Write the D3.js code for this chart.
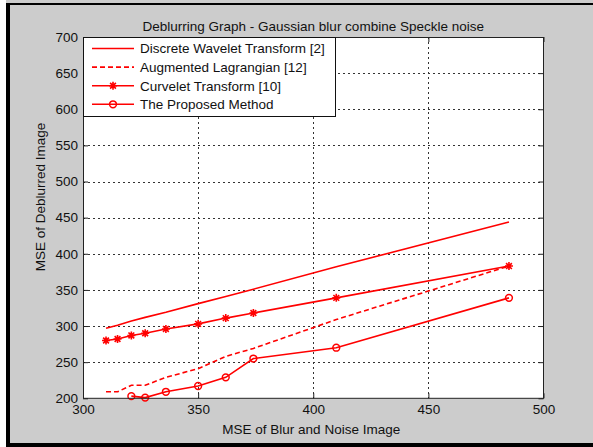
<!DOCTYPE html>
<html>
<head>
<meta charset="utf-8">
<script src="https://cdn.jsdelivr.net/npm/d3@7"></script>
<style>
  html, body { margin: 0; padding: 0; background: #fff; }
  svg { display: block; }
  text { font-family: "Liberation Sans", Arial, sans-serif; fill: #111; }
</style>
</head>
<body>
<svg id="chart" width="593" height="447"></svg>
<script>
// Deblurring results: MSE of the restored image vs MSE of the degraded input
const title = "Deblurring Graph - Gaussian blur combine Speckle noise";
const xLabel = "MSE of Blur and Noise Image";
const yLabel = "MSE of Deblurred Image";

const xTicks = [300, 350, 400, 450, 500];
const yTicks = [200, 250, 300, 350, 400, 450, 500, 550, 600, 650, 700];

const dwtX = [310, 315, 321, 327, 336, 350, 362, 374, 410, 485];
const dwtY = [297, 301, 307, 312, 319, 331, 341, 351, 382, 444];

const alX = [310, 315, 321, 327, 336, 350, 362, 374, 410, 485];
const alY = [209, 209, 218, 218, 229, 241, 258, 269, 309, 383];

const ctX = [310, 315, 321, 327, 336, 350, 362, 374, 410, 485];
const ctY = [280, 282, 287, 290, 296, 303, 311, 318, 339, 383];

const pmX = [321, 327, 336, 350, 362, 374, 410, 485];
const pmY = [203, 201, 209, 217, 229, 255, 270, 339];

const seriesNames = [
  "Discrete Wavelet Transform [2]",
  "Augmented Lagrangian [12]",
  "Curvelet Transform [10]",
  "The Proposed Method"
];

const series = [
  { name: seriesNames[0], xs: dwtX, ys: dwtY, dash: null, marker: "none" },
  { name: seriesNames[1], xs: alX, ys: alY, dash: "5,3", marker: "none" },
  { name: seriesNames[2], xs: ctX, ys: ctY, dash: null, marker: "star" },
  { name: seriesNames[3], xs: pmX, ys: pmY, dash: null, marker: "circle" }
];

const W = 593, H = 447;
const plot = { left: 83, right: 543.5, top: 37, bottom: 398.3 };
const red = "#ff0000";
const fontSize = 13.5;

const svg = d3.select("#chart");

// figure background and frame
svg.append("rect").attr("x", 0).attr("y", 0).attr("width", W).attr("height", H).attr("fill", "#cccccc");
svg.append("rect").attr("x", 0).attr("y", 0).attr("width", 6).attr("height", H).attr("fill", "#ffffff");
svg.append("rect").attr("x", 6).attr("y", 3).attr("width", W - 6).attr("height", 2).attr("fill", "#000");
svg.append("rect").attr("x", 6).attr("y", 3).attr("width", 4).attr("height", H - 3).attr("fill", "#000");
svg.append("rect").attr("x", 6).attr("y", 443).attr("width", W - 6).attr("height", 4).attr("fill", "#000");

const x = d3.scaleLinear().domain([300, 500]).range([plot.left, plot.right]);
const y = d3.scaleLinear().domain([200, 700]).range([plot.bottom, plot.top]);

// axes area
svg.append("rect")
  .attr("x", plot.left).attr("y", plot.top)
  .attr("width", plot.right - plot.left).attr("height", plot.bottom - plot.top)
  .attr("fill", "#fff");

// dotted grid
const grid = svg.append("g").attr("stroke", "#333").attr("stroke-width", 1).attr("stroke-dasharray", "2,3");
grid.selectAll("line.gx").data(xTicks.slice(1, -1)).join("line")
  .attr("x1", d => Math.round(x(d)) + 0.5).attr("x2", d => Math.round(x(d)) + 0.5)
  .attr("y1", plot.top).attr("y2", plot.bottom);
grid.selectAll("line.gy").data(yTicks.slice(1, -1)).join("line")
  .attr("y1", d => Math.round(y(d)) + 0.5).attr("y2", d => Math.round(y(d)) + 0.5)
  .attr("x1", plot.left).attr("x2", plot.right);

// axes with inward ticks
const xAxis = d3.axisBottom(x).tickValues(xTicks).tickSize(-5).tickPadding(6).tickFormat(d3.format("d"));
const yAxis = d3.axisLeft(y).tickValues(yTicks).tickSize(-5).tickPadding(5).tickFormat(d3.format("d"));
const xTop = d3.axisTop(x).tickValues(xTicks).tickSize(-5).tickFormat("");
const yRight = d3.axisRight(y).tickValues(yTicks).tickSize(-5).tickFormat("");

function styleAxis(g) {
  g.select(".domain").remove();
  g.selectAll(".tick line").attr("stroke", "#222");
  g.selectAll(".tick text").attr("font-size", fontSize).attr("font-family", "'Liberation Sans', Arial, sans-serif").attr("fill", "#111");
}
svg.append("g").attr("transform", `translate(0,${plot.bottom})`).call(xAxis).call(styleAxis);
svg.append("g").attr("transform", `translate(${plot.left},0)`).call(yAxis).call(styleAxis);
svg.append("g").attr("transform", `translate(0,${plot.top})`).call(xTop).call(styleAxis);
svg.append("g").attr("transform", `translate(${plot.right},0)`).call(yRight).call(styleAxis);

// series lines
const line = d3.line().x(d => x(d[0])).y(d => y(d[1]));
const starPath = s => `M${-s},0L${s},0M0,${-s}L0,${s}M${-0.72*s},${-0.72*s}L${0.72*s},${0.72*s}M${-0.72*s},${0.72*s}L${0.72*s},${-0.72*s}`;

function drawMarker(g, kind, cx, cy) {
  if (kind === "star") {
    g.append("path").attr("d", starPath(4)).attr("transform", `translate(${cx},${cy})`)
      .attr("stroke", red).attr("stroke-width", 1.6).attr("fill", "none");
  } else if (kind === "circle") {
    g.append("circle").attr("cx", cx).attr("cy", cy).attr("r", 3.4)
      .attr("stroke", red).attr("stroke-width", 1.5).attr("fill", "none");
  }
}

const linesG = svg.append("g");
series.forEach(s => {
  const pts = s.xs.map((v, i) => [v, s.ys[i]]);
  linesG.append("path").datum(pts)
    .attr("d", line)
    .attr("fill", "none").attr("stroke", red).attr("stroke-width", 1.6)
    .attr("stroke-dasharray", s.dash);
  pts.forEach(p => drawMarker(linesG, s.marker, x(p[0]), y(p[1])));
});

// axes box
svg.append("rect")
  .attr("x", plot.left + 0.5).attr("y", plot.top + 0.5)
  .attr("width", plot.right - plot.left - 0.5).attr("height", plot.bottom - plot.top - 0.5)
  .attr("fill", "none").attr("stroke", "#222").attr("stroke-width", 1);

// legend
const leg = { x: plot.left, y: plot.top, w: 252, h: 79 };
const lg = svg.append("g");
lg.append("rect").attr("x", leg.x + 0.5).attr("y", leg.y + 0.5).attr("width", leg.w).attr("height", leg.h)
  .attr("fill", "#fff").attr("stroke", "#111").attr("stroke-width", 1);
series.forEach((s, i) => {
  const cy = 48.5 + i * 18.6;
  lg.append("line").attr("x1", 92).attr("x2", 134).attr("y1", cy).attr("y2", cy)
    .attr("stroke", red).attr("stroke-width", 1.6).attr("stroke-dasharray", s.dash);
  drawMarker(lg, s.marker, 113, cy);
  lg.append("text").attr("x", 140).attr("y", cy + 4.8).attr("font-size", fontSize).text(s.name);
});

// title and axis labels
svg.append("text").attr("x", (plot.left + plot.right) / 2).attr("y", 31)
  .attr("text-anchor", "middle").attr("font-size", fontSize).text(title);
svg.append("text").attr("x", (plot.left + plot.right) / 2 - 2).attr("y", 434)
  .attr("text-anchor", "middle").attr("font-size", fontSize).text(xLabel);
svg.append("text").attr("transform", "translate(45,197) rotate(-90)")
  .attr("text-anchor", "middle").attr("font-size", fontSize).text(yLabel);
</script>
</body>
</html>
